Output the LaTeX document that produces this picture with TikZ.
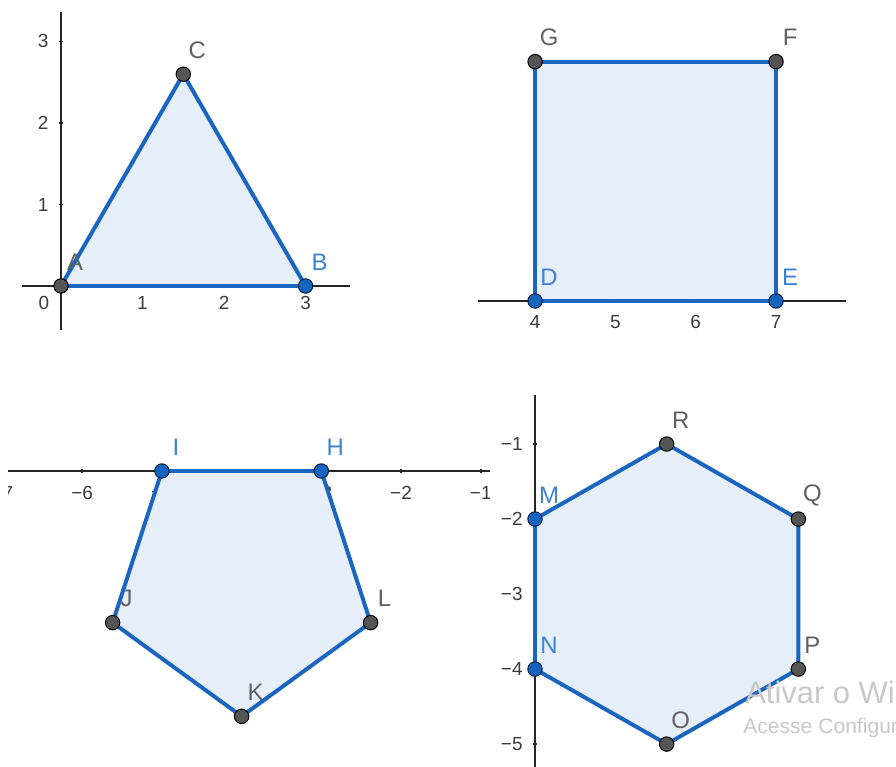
\documentclass[tikz,border=0pt]{standalone}
\usepackage{fontspec}
\setmainfont{Liberation Sans}
\definecolor{edgeblue}{RGB}{25,101,192}
\definecolor{polyfill}{RGB}{230,238,249}
\definecolor{ptgray}{RGB}{85,85,85}
\definecolor{ptblue}{RGB}{21,101,192}
\definecolor{labgray}{RGB}{96,96,96}
\definecolor{labblue}{RGB}{60,130,210}
\definecolor{axisgray}{RGB}{37,37,37}
\definecolor{tickgray}{RGB}{60,60,60}
\definecolor{wmgray}{RGB}{200,200,200}
\begin{document}
\begin{tikzpicture}[x=0.025cm, y=-0.025cm,
        axis/.style={draw=axisgray, line width=1.2pt},
        poly/.style={fill=polyfill, draw=edgeblue, line width=2.8pt, line join=round},
        ticklab/.style={font=\fontsize{13.5}{15}\selectfont, text=tickgray, inner sep=0pt},
        ptlab/.style={font=\fontsize{17}{20}\selectfont, inner sep=0pt,
            xshift=0.35cm, yshift=0.6cm},
        gpoint/.style={circle, draw=black, fill=ptgray, line width=0.7pt, inner sep=0pt,
            minimum size=0.36cm, label={[ptlab, text=labgray]center:#1}},
        bpoint/.style={circle, draw=black!70!ptblue, fill=ptblue, line width=0.7pt, inner sep=0pt,
            minimum size=0.36cm, label={[ptlab, text=labblue]center:#1}},
        wmark/.style={text=wmgray, inner sep=0pt, anchor=base west}]
    \useasboundingbox (0,0) rectangle (896,767);

    % triangulo
    \begin{scope}[shift={(61,286)}, x=2.0375cm, y=2.0375cm]
        \draw[axis] (-0.48,0) -- (3.55,0);
        \draw[axis] (0,-0.54) -- (0,3.36);
        \foreach \i in {1,2,3} {
            \draw[axis] (\i,-0.03) -- (\i,0.03);
            \draw[axis] (-0.03,\i) -- (0.03,\i);
            \node[ticklab] at (\i,-0.21) {\i};
            \node[ticklab, anchor=east] at (-0.15,\i) {\i};
        }
        \node[ticklab] at (-0.21,-0.21) {0};
        \coordinate (A) at (0,0);
        \coordinate (B) at (3,0);
        \coordinate (C) at (1.5,2.598);
        \filldraw[poly] (A) -- (B) -- (C) -- cycle;
        \node[gpoint=A] (pA) at (A) {};
        \node[bpoint=B] (pB) at (B) {};
        \node[gpoint=C] (pC) at (C) {};
    \end{scope}

    % quadrado
    \begin{scope}[shift={(213.8,301)}, x=2.0075cm, y=2.0075cm]
        \draw[axis] (3.29,0) -- (7.87,0);
        \foreach \i in {4,...,7} {
            \draw[axis] (\i,-0.03) -- (\i,0.03);
            \node[ticklab] at (\i,-0.26) {\i};
        }
        \coordinate (D) at (4,0);
        \coordinate (E) at (7,0);
        \coordinate (F) at (7,2.98);
        \coordinate (G) at (4,2.98);
        \filldraw[poly] (D) -- (E) -- (F) -- (G) -- cycle;
        \node[bpoint=D] (pD) at (D) {};
        \node[bpoint=E] (pE) at (E) {};
        \node[gpoint=F] (pF) at (F) {};
        \node[gpoint=G] (pG) at (G) {};
    \end{scope}

    % pentagono
    \begin{scope}[shift={(560.5,471)}, x=1.9925cm, y=1.9925cm]
        \begin{scope}
            \clip (-6.93,0.5) rectangle (-0.885,-0.6);
            \draw[axis] (-6.93,0) -- (-0.885,0);
            \foreach \i in {1,...,7} {
                \draw[axis] (-\i,-0.03) -- (-\i,0.03);
                \node[ticklab] at (-\i,-0.27) {−\i};
            }
        \end{scope}
        \coordinate (H) at (-3,0);
        \coordinate (I) at (-5,0);
        \coordinate (J) at (-5.618,-1.902);
        \coordinate (K) at (-4,-3.078);
        \coordinate (L) at (-2.382,-1.902);
        \filldraw[poly] (H) -- (I) -- (J) -- (K) -- (L) -- cycle;
        \node[bpoint=H] (pH) at (H) {};
        \node[bpoint=I] (pI) at (I) {};
        \node[gpoint=J] (pJ) at (J) {};
        \node[gpoint=K] (pK) at (K) {};
        \node[gpoint=L] (pL) at (L) {};
    \end{scope}

    % hexagono
    \begin{scope}[shift={(535,369)}, x=1.9cm, y=1.875cm]
        \draw[axis] (0,-0.347) -- (0,-5.31);
        \foreach \i in {1,...,5} {
            \draw[axis] (-0.03,-\i) -- (0.03,-\i);
            \node[ticklab, anchor=east] at (-0.16,-\i) {−\i};
        }
        \coordinate (M) at (0,-2);
        \coordinate (N) at (0,-4);
        \coordinate (O) at (1.732,-5);
        \coordinate (P) at (3.464,-4);
        \coordinate (Q) at (3.464,-2);
        \coordinate (R) at (1.732,-1);
        \filldraw[poly] (M) -- (N) -- (O) -- (P) -- (Q) -- (R) -- cycle;
        \node[bpoint=M] (pM) at (M) {};
        \node[bpoint=N] (pN) at (N) {};
        \node[gpoint=O] (pO) at (O) {};
        \node[gpoint=P] (pP) at (P) {};
        \node[gpoint=Q] (pQ) at (Q) {};
        \node[gpoint=R] (pR) at (R) {};
    \end{scope}

    \node[wmark, font=\fontsize{22}{26}\selectfont] (wm1) at (745,703) {Ativar o Windows};
    \node[wmark, font=\fontsize{15}{18}\selectfont] (wm2) at (743,733) {Acesse Configurações para ativar o Windows.};
\end{tikzpicture}
\end{document}
